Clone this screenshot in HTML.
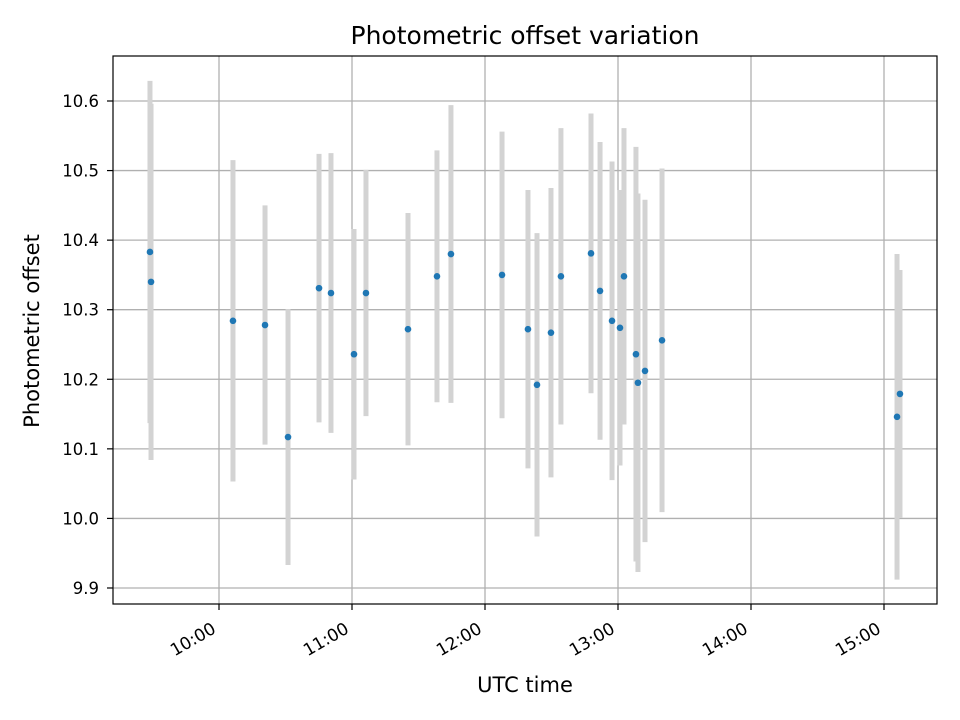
<!DOCTYPE html>
<html><head><meta charset="utf-8"><style>body{margin:0;background:#fff}svg{display:block}text{font-family:"DejaVu Sans","Liberation Sans",sans-serif;fill:#000}</style></head>
<body>
<svg id="chart" width="960" height="720" viewBox="0 0 960 720" xmlns="http://www.w3.org/2000/svg">
<rect width="960" height="720" fill="#fff"/>
<g id="grid"></g>
<g id="bars"></g>
<g id="pts"></g>
<rect x="113" y="56" width="824" height="548" fill="none" stroke="#000" stroke-width="1.2"/>
<g id="ticks"></g>
<text x="525" y="44" font-size="25" text-anchor="middle">Photometric offset variation</text>
<text x="525" y="692" font-size="21" text-anchor="middle">UTC time</text>
<text x="39" y="331" font-size="21" text-anchor="middle" transform="rotate(-90,39,331)">Photometric offset</text>
</svg>
<script>
const times = [9.481,9.489,10.105,10.346,10.519,10.752,10.842,11.015,11.105,11.421,11.639,11.744,12.128,12.323,12.391,12.496,12.571,12.797,12.865,12.955,13.015,13.045,13.135,13.150,13.203,13.331,15.098,15.120];
const offsets = [10.383,10.340,10.284,10.278,10.117,10.331,10.324,10.236,10.324,10.272,10.348,10.380,10.350,10.272,10.192,10.267,10.348,10.381,10.327,10.284,10.274,10.348,10.236,10.195,10.212,10.256,10.146,10.179];
const errors = [0.246,0.256,0.231,0.172,0.184,0.193,0.201,0.180,0.177,0.167,0.181,0.214,0.206,0.200,0.218,0.208,0.213,0.201,0.214,0.229,0.198,0.213,0.298,0.272,0.246,0.247,0.234,0.178];
const yTicks = [9.9,10.0,10.1,10.2,10.3,10.4,10.5,10.6];
const yTickLabels = ["9.9","10.0","10.1","10.2","10.3","10.4","10.5","10.6"];
const xTicks = [10,11,12,13,14,15];
const xTickLabels = ["10:00","11:00","12:00","13:00","14:00","15:00"];

const NS="http://www.w3.org/2000/svg";
const X = h => 219 + (h-10)*133;
const Y = v => 101 + (10.6-v)*695.7;
function mk(tag, attrs, parent){const e=document.createElementNS(NS,tag);for(const k in attrs)e.setAttribute(k,attrs[k]);document.getElementById(parent).appendChild(e);return e;}

xTicks.forEach((t,i)=>{
  const x=X(t);
  const g=mk('line',{x1:x,x2:x,y1:56,y2:604,stroke:'#b0b0b0','stroke-width':1.3},'grid');
  
  
  const tk=mk('line',{x1:x,x2:x,y1:604,y2:610,stroke:'#000','stroke-width':1.2},'ticks');
  
  
  const tx=x-2, ty=632;
  const lb=mk('text',{x:tx,y:ty,'font-size':17,'text-anchor':'end',transform:`rotate(-30,${tx},${ty})`},'ticks');
  lb.textContent=xTickLabels[i];
  
  
});
yTicks.forEach((t,i)=>{
  const y=Y(t);
  const g=mk('line',{x1:113,x2:937,y1:y,y2:y,stroke:'#b0b0b0','stroke-width':1.3},'grid');
  
  
  const tk=mk('line',{x1:107,x2:113,y1:y,y2:y,stroke:'#000','stroke-width':1.2},'ticks');
  
  
  const lb=mk('text',{x:99,y:y+6,'font-size':16.5,'text-anchor':'end'},'ticks');
  lb.textContent=yTickLabels[i];
  
  
});
times.forEach((t,i)=>{
  const x=X(t);
  const b=mk('line',{x1:x,x2:x,y1:Y(offsets[i]+errors[i]),y2:Y(offsets[i]-errors[i]),stroke:'#d3d3d3','stroke-width':5},'bars');
  
  
});
times.forEach((t,i)=>{
  const p=mk('circle',{cx:X(t),cy:Y(offsets[i]),r:3.3,fill:'#1f77b4'},'pts');
  
  
});
</script>
</body></html>
